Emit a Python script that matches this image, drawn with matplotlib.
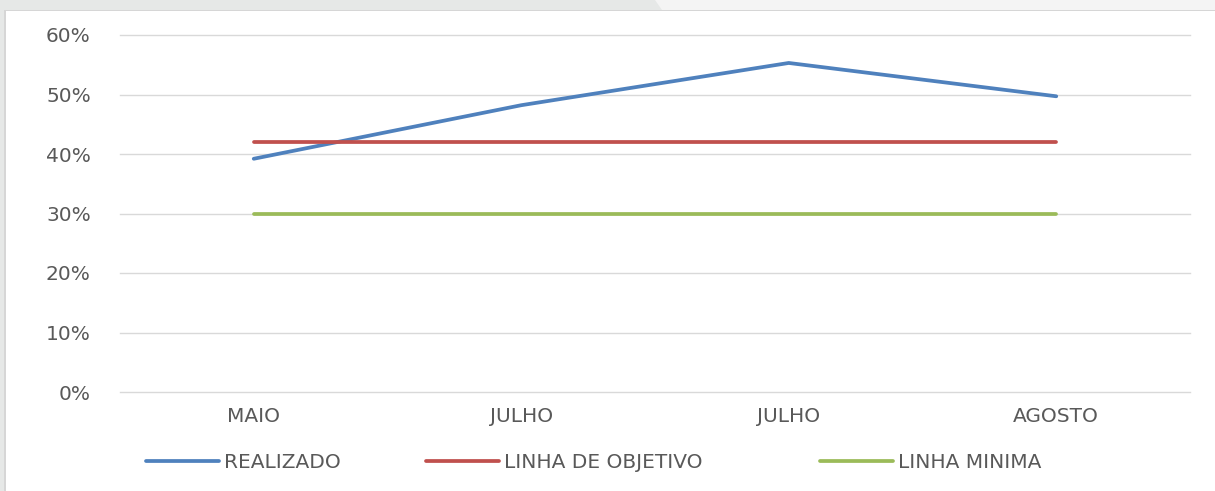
import matplotlib
matplotlib.use('Agg')
import matplotlib.pyplot as plt
from matplotlib.patches import Rectangle, Polygon
from matplotlib.lines import Line2D

# ===== DANE =====
meses = ["MAIO", "JULHO", "JULHO", "AGOSTO"]
realizado = [0.392, 0.482, 0.553, 0.497]
objetivo = [0.42, 0.42, 0.42, 0.42]
minima = [0.30, 0.30, 0.30, 0.30]
y_ticks = [0, 0.1, 0.2, 0.3, 0.4, 0.5, 0.6]
y_labels = ["0%", "10%", "20%", "30%", "40%", "50%", "60%"]
series_nomes = ["REALIZADO", "LINHA DE OBJETIVO", "LINHA MINIMA"]

AZUL = '#4f81bd'
VERMELHO = '#c0504d'
VERDE = '#9bbb59'
CINZA_TXT = '#595959'
LW = 2.7
FS = 14.5

plt.rcParams['font.family'] = ['DejaVu Sans']

W, H = 1215, 491
fig = plt.figure(figsize=(W / 100, H / 100), dpi=100)

# ===== TLO / RAMKA =====
fig.patches.append(Rectangle((0, 1 - 10 / H), 1, 10 / H, transform=fig.transFigure,
                             facecolor='#e6e8e7', edgecolor='none', zorder=0))
fig.patches.append(Polygon([(655 / W, 1), (1, 1), (1, 1 - 10 / H), (662 / W, 1 - 10 / H)],
                           closed=True, transform=fig.transFigure,
                           facecolor='#f4f4f4', edgecolor='none', zorder=0))
fig.patches.append(Rectangle((0, 1 - 11 / H), 1, 1.5 / H, transform=fig.transFigure,
                             facecolor='#d6d6d6', edgecolor='none', zorder=0))
fig.patches.append(Rectangle((0, 0), 4 / W, 1 - 10 / H, transform=fig.transFigure,
                             facecolor='#e6e8e7', edgecolor='none', zorder=0))
fig.patches.append(Rectangle((4 / W, 0), 1.5 / W, 1 - 10 / H, transform=fig.transFigure,
                             facecolor='#d6d6d6', edgecolor='none', zorder=0))

# ===== WYKRES =====
left, right = 120 / W, 1190 / W
top, bottom = 1 - 35 / H, 1 - 392 / H
ax = fig.add_axes([left, bottom, right - left, top - bottom])
ax.set_facecolor('none')

x = list(range(len(meses)))
ax.plot(x, realizado, color=AZUL, linewidth=LW, solid_capstyle='round', zorder=3)
ax.plot(x, objetivo, color=VERMELHO, linewidth=LW, solid_capstyle='round', zorder=3)
ax.plot(x, minima, color=VERDE, linewidth=LW, solid_capstyle='round', zorder=3)

ax.set_xlim(-0.5, len(meses) - 0.5)
ax.set_ylim(0, 0.6)
ax.set_yticks(y_ticks)
ax.set_yticklabels(y_labels)
ax.set_xticks(x)
ax.set_xticklabels(meses)
for yt in y_ticks:
    ax.axhline(yt, color='#d9d9d9', linewidth=1, zorder=1, clip_on=False)
for s in ax.spines.values():
    s.set_visible(False)
ax.tick_params(axis='both', length=0, labelsize=FS, colors=CINZA_TXT)
ax.tick_params(axis='y', pad=21)
ax.tick_params(axis='x', pad=11)

# legenda - kazdy wpis osobno, zeby trafic w pozycje
leg_x = [146, 426, 820]
for nome, cor, px in zip(series_nomes, (AZUL, VERMELHO, VERDE), leg_x):
    h = Line2D([], [], color=cor, linewidth=LW, solid_capstyle='round')
    fig.legend([h], [nome], loc='center left', bbox_to_anchor=(px / W, 1 - 463 / H),
               frameon=False, fontsize=FS, labelcolor=CINZA_TXT,
               handlelength=3.6, handletextpad=0.25, borderpad=0, borderaxespad=0)

fig.savefig('out.png', dpi=100)
